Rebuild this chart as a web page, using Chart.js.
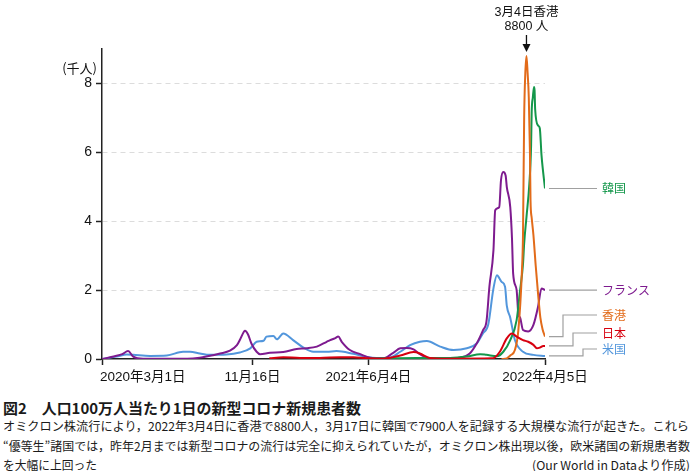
<!DOCTYPE html>
<html lang="ja">
  <head>
    <meta charset="UTF-8" />
    <meta name="viewport" content="width=device-width, initial-scale=1.0" />
    <title>人口100万人当たり1日の新型コロナ新規患者数</title>
    <script src="https://cdn.jsdelivr.net/npm/chart.js"></script>
    <style>
      body {
        margin: 0;
        background: #fff;
        font-family: "Noto Sans CJK JP", sans-serif;
        color: #1a1a1a;
      }
      #wrap {
        position: relative;
        width: 699px;
        height: 471px;
        overflow: hidden;
      }
      #chart {
        position: absolute;
        left: 0;
        top: 0;
      }
      .cap {
        position: absolute;
        display: inline-block;
        white-space: nowrap;
        transform-origin: 0 50%;
        font-size: 12px;
        line-height: 12px;
      }
      .cap.title {
        font-size: 15px;
        line-height: 15px;
        font-weight: bold;
      }
    </style>
  </head>
  <body>
    <div id="wrap">
      <canvas id="chart" width="699" height="395"></canvas>
      <div class="cap title" data-w="358" style="left: 3px; top: 400px">図2　人口100万人当たり1日の新型コロナ新規患者数</div>
      <div class="cap" data-w="686" style="left: 3px; top: 420px">オミクロン株流行により，2022年3月4日に香港で8800人，3月17日に韓国で7900人を記録する大規模な流行が起きた。これら</div>
      <div class="cap" data-w="687" style="left: 3px; top: 440px">“優等生”諸国では，昨年2月までは新型コロナの流行は完全に抑えられていたが，オミクロン株出現以後，欧米諸国の新規患者数</div>
      <div class="cap" data-w="94" style="left: 3px; top: 459px">を大幅に上回った</div>
      <div class="cap" data-w="158" style="left: 532px; top: 459px">(Our World in Dataより作成)</div>
    </div>

    <script>
      // values in thousand cases per million people (7-day average)
      const franceDates = ["2020-03-01", "2020-03-23", "2020-04-05", "2020-04-15", "2020-04-24", "2020-05-11", "2020-07-26", "2020-08-17", "2020-09-21", "2020-10-08", "2020-10-20", "2020-10-25", "2020-11-01", "2020-11-03", "2020-11-08", "2020-11-14", "2020-11-23", "2020-11-29", "2020-12-16", "2021-01-08", "2021-01-31", "2021-02-17", "2021-03-07", "2021-03-24", "2021-03-30", "2021-04-07", "2021-04-13", "2021-04-19", "2021-05-03", "2021-05-21", "2021-06-07", "2021-06-30", "2021-07-17", "2021-07-29", "2021-08-09", "2021-08-21", "2021-09-01", "2021-09-18", "2021-10-17", "2021-11-09", "2021-11-26", "2021-12-08", "2021-12-19", "2021-12-25", "2021-12-30", "2022-01-06", "2022-01-09", "2022-01-16", "2022-01-19", "2022-01-23", "2022-01-27", "2022-01-29", "2022-02-04", "2022-02-07", "2022-02-09", "2022-02-15", "2022-02-18", "2022-02-21", "2022-02-26", "2022-03-07", "2022-03-16", "2022-03-24", "2022-03-30", "2022-04-05"];
      const franceValues = [0, 0.08, 0.14, 0.23, 0.07, 0.01, 0.01, 0.04, 0.16, 0.24, 0.4, 0.55, 0.79, 0.82, 0.72, 0.45, 0.21, 0.14, 0.18, 0.2, 0.29, 0.31, 0.36, 0.5, 0.55, 0.6, 0.65, 0.5, 0.26, 0.14, 0.04, 0.02, 0.18, 0.31, 0.32, 0.28, 0.14, 0.02, 0.02, 0.04, 0.16, 0.45, 0.84, 1.1, 2.1, 3.16, 4.32, 4.41, 5.19, 5.43, 5.33, 5.0, 4.41, 3.5, 2.48, 2.0, 1.3, 1.2, 0.84, 0.8, 0.99, 1.52, 2.05, 2.0];

      const usDates = ["2020-03-01", "2020-03-26", "2020-04-13", "2020-04-24", "2020-05-23", "2020-06-21", "2020-07-19", "2020-07-31", "2020-08-17", "2020-09-03", "2020-10-02", "2020-10-25", "2020-11-12", "2020-11-23", "2020-12-05", "2020-12-10", "2020-12-22", "2020-12-28", "2021-01-08", "2021-01-25", "2021-02-12", "2021-03-01", "2021-03-24", "2021-04-10", "2021-05-09", "2021-06-01", "2021-06-18", "2021-07-11", "2021-07-29", "2021-08-15", "2021-09-01", "2021-09-13", "2021-10-06", "2021-10-29", "2021-11-21", "2021-12-08", "2021-12-19", "2021-12-28", "2022-01-06", "2022-01-12", "2022-01-16", "2022-01-20", "2022-01-26", "2022-01-29", "2022-02-04", "2022-02-12", "2022-02-26", "2022-03-16", "2022-04-05"];
      const usValues = [0, 0.07, 0.13, 0.12, 0.09, 0.1, 0.21, 0.21, 0.16, 0.12, 0.13, 0.19, 0.31, 0.5, 0.53, 0.65, 0.67, 0.57, 0.74, 0.55, 0.33, 0.21, 0.21, 0.23, 0.15, 0.06, 0.03, 0.04, 0.21, 0.4, 0.5, 0.52, 0.36, 0.26, 0.31, 0.45, 0.75, 1.0, 2.05, 2.43, 2.35, 2.24, 2.1, 1.55, 1.2, 0.55, 0.21, 0.12, 0.09];

      const koreaDates = ["2021-06-01", "2021-07-10", "2021-08-27", "2021-10-23", "2021-11-21", "2021-12-14", "2021-12-25", "2022-01-12", "2022-01-23", "2022-02-04", "2022-02-15", "2022-02-21", "2022-02-26", "2022-02-28", "2022-03-04", "2022-03-09", "2022-03-12", "2022-03-13", "2022-03-15", "2022-03-17", "2022-03-18", "2022-03-19", "2022-03-24", "2022-03-27", "2022-03-30", "2022-04-05"];
      const koreaValues = [0.01, 0.02, 0.03, 0.03, 0.07, 0.14, 0.12, 0.08, 0.21, 0.55, 1.13, 2.0, 2.75, 3.35, 4.12, 5.09, 6.2, 7.17, 7.6, 7.9, 7.8, 7.25, 6.78, 6.7, 5.91, 4.95];

      const hongKongDates = ["2022-01-20", "2022-01-29", "2022-02-04", "2022-02-12", "2022-02-18", "2022-02-24", "2022-02-26", "2022-02-28", "2022-03-02", "2022-03-04", "2022-03-06", "2022-03-08", "2022-03-10", "2022-03-11", "2022-03-13", "2022-03-16", "2022-03-20", "2022-03-24", "2022-03-28", "2022-04-01", "2022-04-05"];
      const hongKongValues = [0, 0.02, 0.1, 0.26, 0.84, 2.5, 3.6, 7.0, 8.3, 8.8, 8.3, 7.6, 6.0, 4.6, 4.1, 3.6, 2.7, 1.9, 1.2, 0.85, 0.65];

      const japanDates = ["2020-12-15", "2021-01-08", "2021-02-06", "2021-03-12", "2021-04-16", "2021-05-09", "2021-06-01", "2021-06-29", "2021-07-29", "2021-08-21", "2021-09-01", "2021-09-18", "2021-10-17", "2022-01-05", "2022-01-17", "2022-01-29", "2022-02-07", "2022-02-15", "2022-02-26", "2022-03-07", "2022-03-16", "2022-03-22", "2022-03-27", "2022-04-02", "2022-04-05"];
      const japanValues = [0.02, 0.05, 0.03, 0.03, 0.05, 0.05, 0.02, 0.01, 0.1, 0.2, 0.16, 0.03, 0.01, 0.02, 0.21, 0.6, 0.74, 0.65, 0.55, 0.5, 0.41, 0.31, 0.33, 0.38, 0.38];

      const yTicks = [0, 2, 4, 6, 8];
      const xTickDates = ["2020-03-01", "2020-11-16", "2021-06-04", "2022-04-05"];
      const xTickLabels = ["2020年3月1日", "11月16日", "2021年6月4日", "2022年4月5日"];

      const startDate = "2020-03-01";
      const endDate = "2022-04-05";
      const peakDate = "2022-03-04";

      const DAY = 86400000;
      function toDay(s) {
        const [yy, mm, dd] = s.split("-").map(Number);
        const [y0, m0, d0] = startDate.split("-").map(Number);
        return (Date.UTC(yy, mm - 1, dd) - Date.UTC(y0, m0 - 1, d0)) / DAY;
      }
      function points(dates, values) {
        return dates.map((d, i) => ({ x: toDay(d), y: values[i] }));
      }

      // first dataset is drawn on top
      const series = [
        { name: "日本", color: "#d7000f", dates: japanDates, values: japanValues, bend: 573, ly: 333 },
        { name: "香港", color: "#e26b1a", dates: hongKongDates, values: hongKongValues, bend: 563, ly: 315 },
        { name: "韓国", color: "#14974b", dates: koreaDates, values: koreaValues, bend: null, ly: null },
        { name: "フランス", color: "#7e1b8f", dates: franceDates, values: franceValues, bend: null, ly: null },
        { name: "米国", color: "#5296dc", dates: usDates, values: usValues, bend: 583, ly: 349 },
      ];

      Chart.defaults.font.family = '"Liberation Sans", "Noto Sans CJK JP", sans-serif';
      Chart.defaults.color = "#111";

      const decor = {
        id: "decor",
        afterDraw(chart) {
          const { ctx, chartArea } = chart;
          const x = chart.scales.x;
          const y = chart.scales.y;
          ctx.save();
          ctx.fillStyle = "#111";
          ctx.textBaseline = "middle";

          // unit
          ctx.font = '13px "Noto Sans CJK JP"';
          ctx.textAlign = "right";
          ctx.fillText("(千人)", 97, 68);

          // date labels
          ctx.font = '13.5px "Liberation Sans", "Noto Sans CJK JP"';
          xTickDates.forEach((d, i) => {
            const px = x.getPixelForValue(toDay(d));
            ctx.textAlign = i === 0 ? "left" : "center";
            ctx.fillText(xTickLabels[i], i === 0 ? px - 2 : px, 377);
          });

          // leader lines and country names
          const x0 = chartArea.right + 4;
          const x1 = 597;
          ctx.font = '12px "Noto Sans CJK JP"';
          ctx.textAlign = "left";
          series.forEach((s) => {
            const y0 = y.getPixelForValue(s.values[s.values.length - 1]);
            const ly = s.ly === null ? y0 : s.ly;
            ctx.strokeStyle = "#a0a0a0";
            ctx.lineWidth = 1.2;
            ctx.beginPath();
            ctx.moveTo(x0, y0);
            if (s.bend !== null) {
              ctx.lineTo(s.bend, y0);
              ctx.lineTo(s.bend, ly);
            }
            ctx.lineTo(x1, ly);
            ctx.stroke();
            ctx.fillStyle = s.color;
            ctx.fillText(s.name, 602, ly);
          });

          // Hong Kong peak note
          const pk = x.getPixelForValue(toDay(peakDate));
          ctx.fillStyle = "#111";
          ctx.textAlign = "center";
          ctx.font = '12.5px "Liberation Sans", "Noto Sans CJK JP"';
          ctx.fillText("3月4日香港", pk, 13);
          ctx.fillText("8800 人", pk, 27);
          ctx.strokeStyle = "#111";
          ctx.lineWidth = 1.3;
          ctx.beginPath();
          ctx.moveTo(pk, 35);
          ctx.lineTo(pk, 46);
          ctx.stroke();
          ctx.beginPath();
          ctx.moveTo(pk - 4, 44);
          ctx.lineTo(pk + 4, 44);
          ctx.lineTo(pk, 52);
          ctx.closePath();
          ctx.fill();
          ctx.restore();
        },
      };

      new Chart(document.getElementById("chart"), {
        type: "line",
        data: {
          datasets: series.map((s) => ({
            label: s.name,
            data: points(s.dates, s.values),
            borderColor: s.color,
            backgroundColor: s.color,
          })),
        },
        options: {
          responsive: false,
          animation: false,
          layout: { padding: { left: 42, right: 154, top: 49, bottom: 6 } },
          plugins: {
            legend: { display: false },
            tooltip: { enabled: false },
          },
          elements: {
            point: { radius: 0 },
            line: { borderWidth: 2, cubicInterpolationMode: "monotone" },
          },
          scales: {
            x: {
              type: "linear",
              min: 0,
              max: toDay(endDate),
              afterBuildTicks: (s) => {
                s.ticks = xTickDates.map((d) => ({ value: toDay(d) }));
              },
              afterFit: (s) => {
                s.height = 30;
              },
              ticks: { display: false },
              grid: {
                drawOnChartArea: false,
                tickLength: 6,
                tickColor: "#222",
                tickWidth: 1.5,
              },
              border: { color: "#222", width: 1.5 },
            },
            y: {
              min: 0,
              max: 9,
              afterBuildTicks: (s) => {
                s.ticks = yTicks.map((v) => ({ value: v }));
              },
              afterFit: (s) => {
                s.width = 60;
              },
              ticks: { font: { size: 14 }, color: "#111", padding: 4 },
              grid: {
                color: (c) => (c.tick && c.tick.value === 0 ? "rgba(0,0,0,0)" : "#dcdcdc"),
                tickColor: "#222",
                tickLength: 6,
                tickWidth: 1.5,
              },
              border: { color: "#222", width: 1.5, dash: [5, 4] },
            },
          },
        },
        plugins: [decor],
      });

      function fitCaptions() {
        document.querySelectorAll(".cap").forEach((el) => {
          el.style.transform = "none";
          const w = el.getBoundingClientRect().width;
          el.style.transform = "scaleX(" + el.dataset.w / w + ")";
        });
      }
      fitCaptions();
      document.fonts.ready.then(fitCaptions);
    </script>
  </body>
</html>
